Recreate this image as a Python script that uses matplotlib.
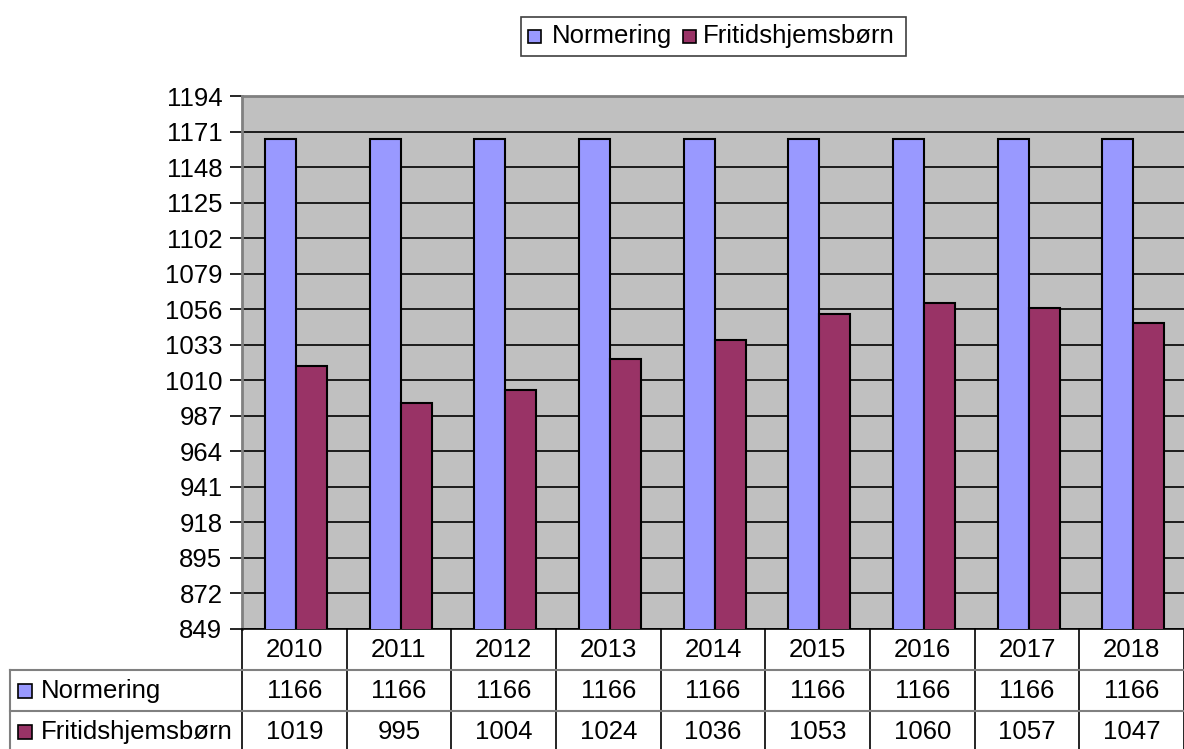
import matplotlib
matplotlib.use("Agg")
import matplotlib.pyplot as plt
from matplotlib.patches import Rectangle
from matplotlib.lines import Line2D

plt.rcParams['font.family'] = ['Liberation Sans', 'DejaVu Sans']

years = ["2010", "2011", "2012", "2013", "2014", "2015", "2016", "2017", "2018"]
normering = [1166, 1166, 1166, 1166, 1166, 1166, 1166, 1166, 1166]
fritid = [1019, 995, 1004, 1024, 1036, 1053, 1060, 1057, 1047]
series_names = ["Normering", "Fritidshjemsbørn"]
yticks = [849, 872, 895, 918, 941, 964, 987, 1010, 1033, 1056, 1079, 1102, 1125, 1148, 1171, 1194]

W, H = 1184, 749
c_norm = "#9999FF"
c_frit = "#993366"
FS = 18.5

fig = plt.figure(figsize=(W / 100, H / 100), dpi=100)

def fx(px):
    return px / W

def fy(py):
    return 1 - py / H

ax_l, ax_r, ax_t, ax_b = 242, 1186, 96, 629
ax = fig.add_axes([fx(ax_l), fy(ax_b), fx(ax_r - ax_l), (ax_b - ax_t) / H])
ax.set_facecolor("#C0C0C0")

n = len(years)
xs = list(range(n))
bw = 0.296
ax.bar([x - 0.133 for x in xs], normering, width=bw, color=c_norm, edgecolor="black", linewidth=1.5, zorder=3)
ax.bar([x + 0.163 for x in xs], fritid, width=bw, color=c_frit, edgecolor="black", linewidth=1.5, zorder=3)

ax.set_xlim(-0.5, n - 0.5 + (ax_r - 1184) / ((1184 - ax_l) / n))
ax.set_ylim(849, 1194)
ax.set_yticks(yticks)
ax.set_yticklabels([str(t) for t in yticks], fontsize=FS)
ax.set_xticks([])
ax.yaxis.grid(True, color="black", linewidth=1.2, zorder=1)
ax.set_axisbelow(True)
ax.tick_params(axis="y", length=8.6, width=1.2, pad=5.5, color="black")
for s in ["top", "left", "right"]:
    ax.spines[s].set_color("#808080")
    ax.spines[s].set_linewidth(2)
ax.spines["bottom"].set_color("black")
ax.spines["bottom"].set_linewidth(1.2)

# Data table below
colw = (1184 - ax_l) / n
lines = []
for k in range(n + 1):
    x = ax_l + k * colw
    lines.append(Line2D([fx(x), fx(x)], [fy(629), fy(752)], color="black", lw=1.2))
for yy in [670, 711]:
    lines.append(Line2D([fx(10), fx(1184)], [fy(yy), fy(yy)], color="#808080", lw=1.5))
lines.append(Line2D([fx(10), fx(10)], [fy(670), fy(752)], color="#808080", lw=1.5))
for ln in lines:
    fig.add_artist(ln)

for i, y in enumerate(years):
    cx = ax_l + (i + 0.5) * colw
    fig.text(fx(cx), fy(650), y, ha="center", va="center", fontsize=FS)
    fig.text(fx(cx), fy(691), str(normering[i]), ha="center", va="center", fontsize=FS)
    fig.text(fx(cx), fy(732), str(fritid[i]), ha="center", va="center", fontsize=FS)

for (yc, col, name) in [(691, c_norm, series_names[0]), (732, c_frit, series_names[1])]:
    fig.add_artist(Rectangle((fx(18), fy(yc + 7)), fx(14), 14 / H, facecolor=col, edgecolor="black", lw=1.2))
    fig.text(fx(41), fy(yc), name, ha="left", va="center", fontsize=FS)

# Legend
fig.add_artist(Rectangle((fx(521), fy(56)), fx(906 - 521), (56 - 17) / H, facecolor="white", edgecolor="#404040", lw=1.2))
fig.add_artist(Rectangle((fx(528), fy(43)), fx(13), 13 / H, facecolor=c_norm, edgecolor="black", lw=1.2))
fig.text(fx(552), fy(36), series_names[0], ha="left", va="center", fontsize=FS)
fig.add_artist(Rectangle((fx(683), fy(43)), fx(13), 13 / H, facecolor=c_frit, edgecolor="black", lw=1.2))
fig.text(fx(703), fy(36), series_names[1], ha="left", va="center", fontsize=FS)

fig.savefig("out.png", dpi=100)
